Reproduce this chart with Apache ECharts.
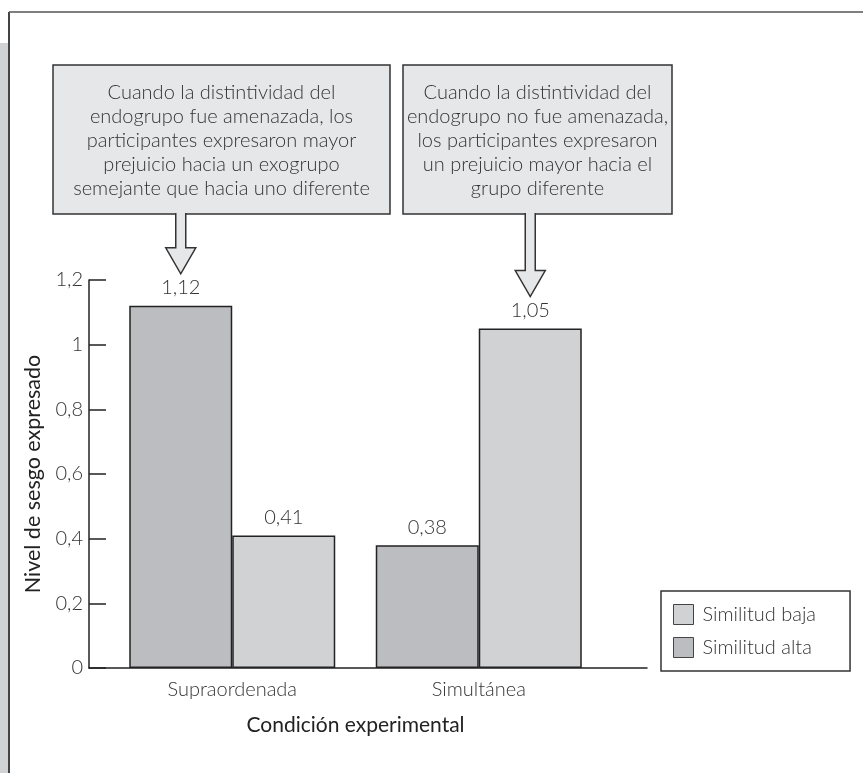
<!DOCTYPE html>
<html><head><meta charset="utf-8">
<script src="https://cdn.jsdelivr.net/npm/echarts@6/dist/echarts.min.js"></script>
<style>html,body{margin:0;padding:0;background:#fff}#c{width:863px;height:773px}</style>
</head><body><div id="c"></div>
<script>
const categories = ['Supraordenada', 'Simultánea'];
const similitudAlta = [1.12, 0.38];
const similitudBaja = [0.41, 1.05];
const yTicks = [0, 0.2, 0.4, 0.6, 0.8, 1, 1.2];
const note1 = ['Cuando la distintividad del', 'endogrupo fue amenazada, los', 'participantes expresaron mayor', 'prejuicio hacia un exogrupo', 'semejante que hacia uno diferente'];
const note2 = ['Cuando la distintividad del', 'endogrupo no fue amenazada,', 'los participantes expresaron', 'un prejuicio mayor hacia el', 'grupo diferente'];

const FONT = 'Lato';
const fmt = v => String(v).replace('.', ',');
const chart = echarts.init(document.getElementById('c'), null, {renderer: 'canvas'});

const option = {
  backgroundColor: '#fff',
  animation: false,
  textStyle: {fontFamily: FONT, fontWeight: 300, color: '#333'},
  grid: [
    {left: 109, width: 493, top: 280, height: 388},
    {left: 89, width: 558, top: 280, height: 388}
  ],
  legend: {
    orient: 'vertical', left: 661, top: 591,
    data: ['Similitud baja', 'Similitud alta'],
    itemWidth: 20, itemHeight: 20, itemGap: 12,
    padding: [13, 34, 13, 12],
    borderColor: '#333', borderWidth: 1.5,
    icon: 'rect',
    itemStyle: {borderColor: '#444', borderWidth: 1},
    textStyle: {fontFamily: FONT, fontWeight: 300, fontSize: 20, color: '#333', padding: [0, 0, 0, 4]}
  },
  xAxis: [
    {type: 'category', gridIndex: 0, data: categories,
     axisLine: {show: false}, axisTick: {show: false},
     axisLabel: {fontFamily: FONT, fontWeight: 300, fontSize: 20, color: '#333', margin: 12},
     name: 'Condición experimental', nameLocation: 'middle', nameGap: 47,
     nameTextStyle: {fontFamily: FONT, fontWeight: 400, fontSize: 21, color: '#222'}},
    {type: 'value', gridIndex: 1, min: 0, max: 1,
     axisLine: {show: true, lineStyle: {color: '#222', width: 1.5}},
     axisTick: {show: false}, axisLabel: {show: false}, splitLine: {show: false}}
  ],
  yAxis: [
    {type: 'value', gridIndex: 0, min: 0, max: 1.2, show: false, splitLine: {show: false}},
    {type: 'value', gridIndex: 1, min: 0, max: 1.2, interval: 0.2,
     axisLine: {show: true, lineStyle: {color: '#222', width: 1.5}},
     axisTick: {show: true, inside: true, length: 17, lineStyle: {color: '#222', width: 1.5}},
     splitLine: {show: false},
     axisLabel: {fontFamily: FONT, fontWeight: 300, fontSize: 20, color: '#333', margin: 6,
       formatter: v => yTicks.indexOf(Math.round(v * 10) / 10) >= 0 ? fmt(Math.round(v * 10) / 10) : ''},
     name: 'Nivel de sesgo expresado', nameLocation: 'middle', nameGap: 41,
     nameTextStyle: {fontFamily: FONT, fontWeight: 400, fontSize: 21.5, color: '#222'}}
  ],
  series: [
    {name: 'Similitud alta', type: 'bar', xAxisIndex: 0, yAxisIndex: 0, data: similitudAlta,
     barWidth: 103, barGap: '0%',
     itemStyle: {color: '#bcbdc0', borderColor: '#222', borderWidth: 1.5},
     label: {show: true, position: 'top', distance: 8, formatter: p => fmt(p.value),
       fontFamily: FONT, fontWeight: 300, fontSize: 20, color: '#333'}},
    {name: 'Similitud baja', type: 'bar', xAxisIndex: 0, yAxisIndex: 0, data: similitudBaja,
     barWidth: 103, barGap: '0%',
     itemStyle: {color: '#d1d2d4', borderColor: '#222', borderWidth: 1.5},
     label: {show: true, position: 'top', distance: 8, formatter: p => fmt(p.value),
       fontFamily: FONT, fontWeight: 300, fontSize: 20, color: '#333'}}
  ]
};
chart.setOption(option);

function barLayout(si, di) {
  const d = chart.getModel().getSeriesByIndex(si).getData();
  return d.getItemLayout(di);
}
function noteBox(x, y, w, h, lines) {
  return [
    {type: 'rect', shape: {x: x, y: y, width: w, height: h},
     style: {fill: '#e6e7e8', stroke: '#333', lineWidth: 1.5}, z: 10},
    {type: 'text', x: x + w / 2, y: y + 16,
     style: {text: lines.join('\n'), align: 'center', verticalAlign: 'top',
       font: '300 20px ' + FONT, lineHeight: 24, fill: '#333'}, z: 11}
  ];
}
function arrow(cx, top, tip) {
  const hs = tip - 26;
  const pts = [[cx - 5, top - 1], [cx - 5, hs], [cx - 15, hs], [cx, tip], [cx + 15, hs], [cx + 5, hs], [cx + 5, top - 1]];
  return [
    {type: 'polygon', shape: {points: pts}, style: {fill: '#e6e7e8', stroke: null}, z: 12},
    {type: 'polyline', shape: {points: pts}, style: {stroke: '#333', lineWidth: 1.5, fill: null}, z: 13}
  ];
}
const b1 = barLayout(0, 0);
const b4 = barLayout(1, 1);
const boxTop = 65, boxBottom = 214;
let g = [
  {type: 'rect', shape: {x: 0, y: 43, width: 8, height: 730}, style: {fill: '#d1d2d4'}, z: 1},
  {type: 'line', shape: {x1: 9, y1: 12, x2: 9, y2: 773}, style: {stroke: '#444', lineWidth: 2}, z: 2},
  {type: 'line', shape: {x1: 9, y1: 12, x2: 863, y2: 12}, style: {stroke: '#555', lineWidth: 1.5}, z: 2}
];
g = g.concat(noteBox(53, boxTop, 337, boxBottom - boxTop, note1));
g = g.concat(noteBox(403, boxTop, 269, boxBottom - boxTop, note2));
g = g.concat(arrow(b1.x + b1.width / 2, boxBottom, Math.min(b1.y, b1.y + b1.height) - 32));
g = g.concat(arrow(b4.x + b4.width / 2, boxBottom, Math.min(b4.y, b4.y + b4.height) - 32));
chart.setOption({graphic: g});
</script></body></html>
